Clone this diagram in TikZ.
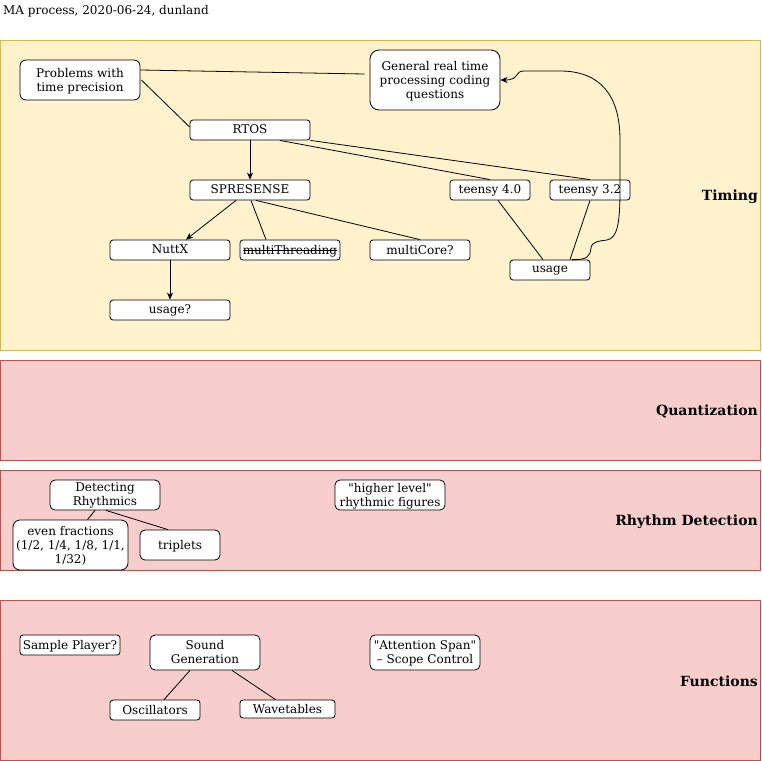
\documentclass[tikz,border=0pt]{standalone}
\usepackage{fontspec}
\setmainfont{DejaVu Serif}[Ligatures=TeXOff]
\usetikzlibrary{arrows.meta,calc}
\definecolor{timefill}{HTML}{FFF2CC}
\definecolor{timeline}{HTML}{D6B656}
\definecolor{redfill}{HTML}{F8CECC}
\definecolor{redline}{HTML}{B85450}
% struck-through text
\newcommand\strikeword[1]{\setbox0\hbox{#1}\rlap{\rule[0.3em]{\wd0}{0.7pt}}\box0}

\begin{document}
\begin{tikzpicture}[x=1pt,y=-1pt,
  font=\fontsize{12}{14}\selectfont,
  box/.style={draw, fill=white, line width=0.8pt, inner sep=0pt, align=center,
    rounded corners=3pt, text depth=1pt},
  lane/.style={line width=0.8pt},
  lanelabel/.style={anchor=east, inner sep=0pt, font=\fontsize{14}{16}\selectfont\bfseries},
  link/.style={line width=0.8pt},
  arr/.style={link, -{Stealth[length=7pt,width=6pt,inset=2pt]}}
]
\useasboundingbox (0,0) rectangle (761,761);

% title
\node[anchor=west, inner sep=0pt] (title) at (3,11) {MA process, 2020-06-24, dunland};

% swimlanes
\draw[lane, fill=timefill, draw=timeline] (0.5,40.5) rectangle (760.5,350.5);
\draw[lane, fill=redfill, draw=redline] (0.5,360.5) rectangle (760.5,460.5);
\draw[lane, fill=redfill, draw=redline] (0.5,470.5) rectangle (760.5,570.5);
\draw[lane, fill=redfill, draw=redline] (0.5,600.5) rectangle (760.5,760.5);

\node[lanelabel] (ltiming) at (758,196.5) {Timing};
\node[lanelabel] (lquant) at (758,411.5) {Quantization};
\node[lanelabel] (lrhythm) at (758,521.5) {Rhythm Detection};
\node[lanelabel] (lfunc) at (758,681.5) {Functions};

% timing nodes
\node[box, rounded corners=6pt, minimum width=120pt, minimum height=40pt] (prob) at (80,80) {Problems with\\time precision};
\node[box, rounded corners=9pt, minimum width=130pt, minimum height=60pt] (gen) at (435,80) {General real time\\processing coding\\questions};
\node[box, minimum width=120pt, minimum height=20pt] (rtos) at (250,130) {RTOS};
\node[box, minimum width=120pt, minimum height=20pt] (spr) at (250,190) {SPRESENSE};
\node[box, minimum width=80pt, minimum height=20pt] (t40) at (490,190) {teensy 4.0};
\node[box, minimum width=80pt, minimum height=20pt] (t32) at (590,190) {teensy 3.2};
\node[box, minimum width=120pt, minimum height=20pt] (nuttx) at (170,250) {NuttX};
\node[box, minimum width=100pt, minimum height=20pt] (mthread) at (290,250) {\strikeword{multiThreading}};
\node[box, minimum width=100pt, minimum height=20pt] (mcore) at (420,250) {multiCore?};
\node[box, minimum width=80pt, minimum height=20pt] (usage) at (550,270) {usage};
\node[box, minimum width=120pt, minimum height=20pt] (usageq) at (170,310) {usage?};

% timing links
\draw[link] ([yshift=10pt]prob.east) -- ([xshift=-5pt,yshift=6pt]gen.west);
\draw[link] ([xshift=1pt]prob.east) -- ([yshift=3pt]rtos.west);
\draw[arr] (rtos.south) -- (spr.north);
\draw[link] ([xshift=30pt]rtos.south) -- (t40.north);
\draw[link] (rtos.south east) -- (t32.north);
\draw[arr] ([xshift=-14pt]spr.south) -- ([xshift=16pt]nuttx.north);
\draw[link] ([xshift=1pt]spr.south) -- ([xshift=-24pt]mthread.north);
\draw[link] ([xshift=6pt]spr.south) -- (mcore.north);
\draw[arr] (nuttx.south) -- (usageq.north);
\draw[link] ([xshift=8pt]t40.south) -- ([xshift=-7pt]usage.north);
\draw[link] (t32.south) -- ([xshift=20pt]usage.north);
\draw[arr] ([xshift=22pt]usage.north) .. controls (588,260) and (590,256) .. (591,248)
  .. controls (592,241) and (600,241) .. (607,240)
  .. controls (617,238) and (620,225) .. (620,190) -- (620,140)
  .. controls (620,95) and (600,71) .. (560,71) -- (524,71)
  .. controls (514,71) and (520,80) .. (gen.east);

% rhythm detection nodes
\node[box, rounded corners=5pt, minimum width=110pt, minimum height=30pt] (detect) at (105,495) {Detecting\\Rhythmics};
\node[box, rounded corners=7pt, minimum width=115pt, minimum height=50pt] (even) at (70.5,545) {even fractions\\(1/2, 1/4, 1/8, 1/1,\\1/32)};
\node[box, rounded corners=5pt, minimum width=80pt, minimum height=30pt] (trip) at (180,545) {triplets};
\node[box, rounded corners=5pt, minimum width=110pt, minimum height=30pt] (higher) at (390,495) {"higher level"\\rhythmic figures};

\draw[link] ([xshift=-10pt]detect.south) -- ([xshift=17pt]even.north);
\draw[link] ([xshift=1pt]detect.south) -- ([xshift=-12pt]trip.north);

% functions nodes
\node[box, minimum width=100pt, minimum height=20pt] (sample) at (70,645) {Sample Player?};
\node[box, rounded corners=5pt, minimum width=110pt, minimum height=35pt] (sound) at (205,652.5) {Sound\\Generation};
\node[box, rounded corners=5pt, minimum width=110pt, minimum height=35pt] (attn) at (425,652.5) {"Attention Span"\\– Scope Control};
\node[box, minimum width=90pt, minimum height=20pt] (osc) at (155,710) {Oscillators};
\node[box, minimum width=95pt, minimum height=18pt] (wave) at (287.5,709) {Wavetables};

\draw[link] ([xshift=-15pt]sound.south) -- ([xshift=9pt]osc.north);
\draw[link] ([xshift=27pt]sound.south) -- ([xshift=-12pt]wave.north);

\end{tikzpicture}
\end{document}
